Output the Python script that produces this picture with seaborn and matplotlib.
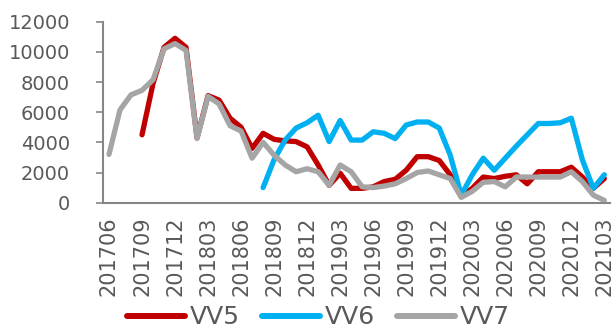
import matplotlib
matplotlib.use('Agg')
import matplotlib.pyplot as plt
import seaborn as sns
import numpy as np
import pandas as pd

# 월별 데이터 201706 ~ 202103
months = pd.period_range('2017-06', '2021-03', freq='M').strftime('%Y%m').tolist()

nan = np.nan
vv5 = [nan, nan, nan, 4500, 7900, 10300, 10900, 10300, 4300, 7100,
       6800, 5600, 5000, 3600, 4600, 4200, 4100, 4050, 3700, 2500,
       1150, 1950, 950, 950, 1050, 1400, 1550, 2150, 3050, 3050,
       2800, 1850, 400, 950, 1700, 1600, 1750, 1850, 1250, 2050,
       2050, 2050, 2350, 1700, 950, 1600]
vv6 = [nan] * 14 + [1000, 2850, 4150, 4950, 5300, 5800,
       4050, 5450, 4150, 4150, 4700, 4600, 4250, 5150, 5350, 5350,
       4950, 3150, 500, 1850, 2950, 2150, 2950, 3750, 4500, 5250,
       5250, 5300, 5600, 2850, 950, 1850]
vv7 = [3200, 6150, 7150, 7450, 8150, 10200, 10550, 10100, 4250, 7050,
       6550, 5100, 4750, 2950, 4000, 3150, 2500, 2050, 2250, 2050,
       1150, 2500, 2050, 1050, 1000, 1100, 1250, 1600, 2000, 2100,
       1850, 1600, 350, 750, 1350, 1400, 1050, 1700, 1700, 1700,
       1700, 1700, 2050, 1400, 500, 150]

df = pd.DataFrame({'idx': range(len(months)), 'VV5': vv5, 'VV6': vv6, 'VV7': vv7})
long = df.melt(id_vars='idx', var_name='series', value_name='value').dropna()

sns.set_style('white')
plt.rcParams['font.family'] = ['DejaVu Sans']

fig = plt.figure(figsize=(6.16, 3.29), dpi=100)
ax = fig.add_axes([0.168, 0.384, 0.822, 0.550])

palette = {'VV5': '#C00000', 'VV6': '#00B0F0', 'VV7': '#A5A5A5'}
sns.lineplot(data=long, x='idx', y='value', hue='series', palette=palette,
             linewidth=3.8, ax=ax, legend=True,
             solid_joinstyle='round', solid_capstyle='round')

axis_col = '#868686'
text_col = '#595959'
ax.set_xlim(-0.5, len(months) - 0.5)
ax.set_ylim(0, 12000)
ax.set_yticks(range(0, 12001, 2000))
ax.set_xticks(range(0, len(months), 3))
ax.set_xticklabels(months[::3], rotation=90)
ax.set_xticks(np.arange(-0.5, len(months), 1), minor=True)
ax.tick_params(axis='x', which='major', length=0, pad=10, labelsize=15, colors=text_col)
ax.tick_params(axis='x', which='minor', length=5, width=1.2, color=axis_col, direction='out')
ax.tick_params(axis='y', which='major', length=5, width=1.2, color=axis_col,
               labelsize=14, labelcolor=text_col, left=True, pad=19)
ax.set_xlabel('')
ax.set_ylabel('')
for s in ['top', 'right']:
    ax.spines[s].set_visible(False)
for s in ['left', 'bottom']:
    ax.spines[s].set_color(axis_col)
    ax.spines[s].set_linewidth(1.5)

handles, labels = ax.get_legend_handles_labels()
ax.legend_.remove()
leg = fig.legend(handles, labels, loc='center', bbox_to_anchor=(0.517, 0.035), ncol=3,
                 frameon=False, fontsize=18, handlelength=2.3, handletextpad=0.2,
                 columnspacing=0.9, labelcolor=text_col, borderpad=0)
for line in leg.get_lines():
    line.set_linewidth(4.3)
    line.set_solid_capstyle('round')

fig.savefig('out.png', dpi=100)
